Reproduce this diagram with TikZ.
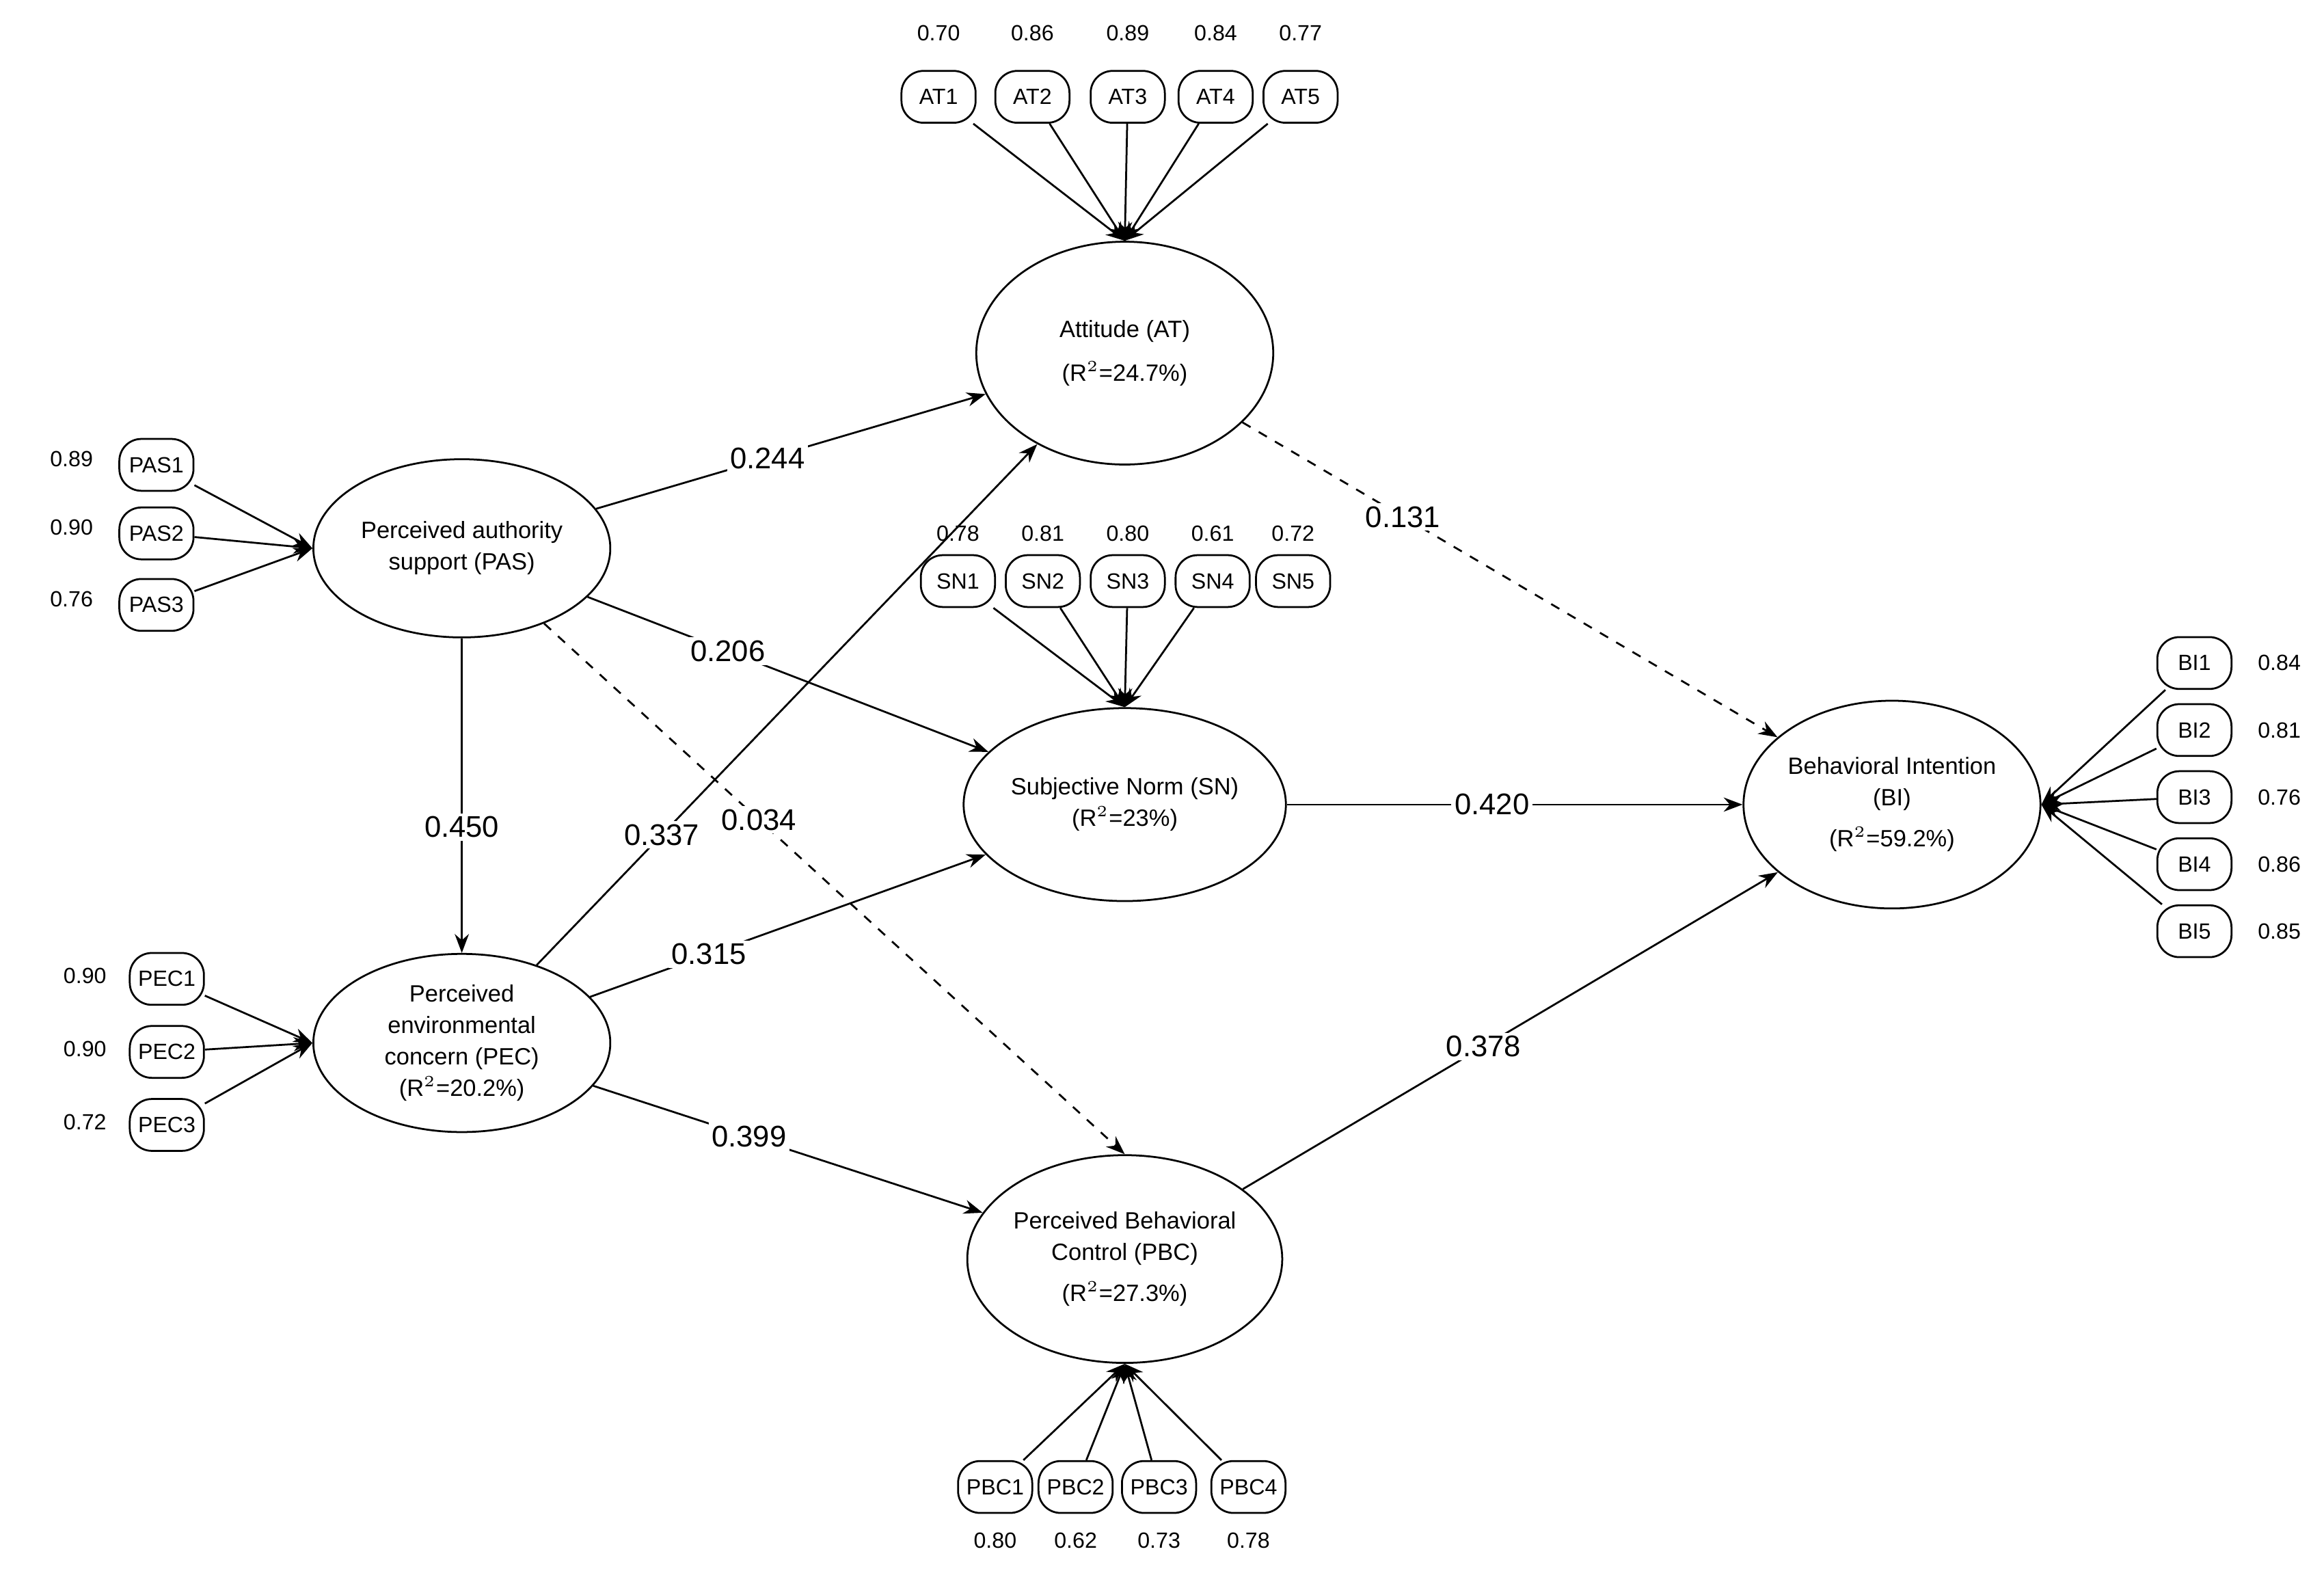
\documentclass[tikz,border=0pt]{standalone}
\usepackage{fontspec}
\setmainfont{Liberation Sans}
\usetikzlibrary{shapes.geometric,arrows.meta}
\begin{document}
\begin{tikzpicture}[x=0.016667cm,y=-0.016667cm,
  lv/.style={ellipse,draw,line width=0.6pt,minimum width=94.5pt,minimum height=#1,align=center,font=\fontsize{7.5}{10}\selectfont,inner sep=0pt},
  ind/.style={rectangle,rounded corners=7pt,draw,line width=0.6pt,minimum width=23.6pt,minimum height=16.5pt,inner sep=0pt,font=\fontsize{7}{8}\selectfont},
  ld/.style={font=\fontsize{7}{8}\selectfont},
  co/.style={font=\fontsize{9.5}{11}\selectfont,fill=white,inner sep=1pt},
  ar/.style={-{Stealth[length=6pt,width=4.5pt]},line width=0.6pt},
  da/.style={ar,dashed}]
\useasboundingbox (0,0) rectangle (1560,1054);
\node[lv=70.9pt] (AT) at (755,237) {Attitude (AT)\\[4pt](R$^{2}$=24.7\%)};
\node[lv=56.7pt] (PAS) at (310,368) {Perceived authority\\support (PAS)};
\node[lv=61.4pt] (SN) at (755,540) {Subjective Norm (SN)\\(R$^{2}$=23\%)};
\node[lv=56.7pt] (PEC) at (310,700) {Perceived\\environmental\\concern (PEC)\\(R$^{2}$=20.2\%)};
\node[lv=66.1pt] (PBC) at (755,845) {Perceived Behavioral\\Control (PBC)\\[3pt](R$^{2}$=27.3\%)};
\node[lv=66.1pt] (BI) at (1270,540) {Behavioral Intention\\(BI)\\[3pt](R$^{2}$=59.2\%)};
% AT indicators
\foreach \n/\x/\l in {1/630/0.70,2/693/0.86,3/757/0.89,4/816/0.84,5/873/0.77}{
  \node[ind] (AT\n) at (\x,65) {AT\n};
  \node[ld] (ATl\n) at (\x,22) {\l};
  \draw[ar] (AT\n) -- (AT.north);}
% SN indicators
\foreach \n/\x/\l in {1/643/0.78,2/700/0.81,3/757/0.80,4/814/0.61,5/868/0.72}{
  \node[ind] (SN\n) at (\x,390) {SN\n};
  \node[ld] (SNl\n) at (\x,358) {\l};}
\foreach \n in {1,2,3,4}{\draw[ar] (SN\n) -- (SN.north);}
% PAS
\foreach \n/\y/\l in {1/312/0.89,2/358/0.90,3/406/0.76}{
  \node[ind] (PAS\n) at (105,\y) {PAS\n};
  \node[ld] (PASl\n) at (48,\y-4) {\l};
  \draw[ar] (PAS\n) -- (PAS.west);}
% PEC
\foreach \n/\y/\l in {1/657/0.90,2/706/0.90,3/755/0.72}{
  \node[ind] (PEC\n) at (112,\y) {PEC\n};
  \node[ld] (PECl\n) at (57,\y-2) {\l};
  \draw[ar] (PEC\n) -- (PEC.west);}
% PBC
\foreach \n/\x/\l in {1/668/0.80,2/722/0.62,3/778/0.73,4/838/0.78}{
  \node[ind] (PBC\n) at (\x,998) {PBC\n};
  \node[ld] (PBCl\n) at (\x,1034) {\l};
  \draw[ar] (PBC\n) -- (PBC.south);}
% BI
\foreach \n/\y/\l in {1/445/0.84,2/490/0.81,3/535/0.76,4/580/0.86,5/625/0.85}{
  \node[ind] (BI\n) at (1473,\y) {BI\n};
  \node[ld] (BIl\n) at (1530,\y) {\l};
  \draw[ar] (BI\n) -- (BI.east);}
% structural paths
\draw[ar] (PAS) -- node[co,pos=0.44] {0.244} (AT);
\draw[ar] (PAS) -- node[co,pos=0.35] {0.206} (SN);
\draw[da] (PAS) -- node[co,pos=0.37] {0.034} (PBC.north);
\draw[ar] (PAS) -- node[co,pos=0.6] {0.450} (PEC);
\draw[ar] (PEC) -- node[co,pos=0.25] {0.337} (AT);
\draw[ar] (PEC) -- node[co,pos=0.3] {0.315} (SN);
\draw[ar] (PEC) -- node[co,pos=0.4] {0.399} (PBC);
\draw[da] (AT) -- node[co,pos=0.3] {0.131} (BI);
\draw[ar] (SN) -- node[co,pos=0.45] {0.420} (BI);
\draw[ar] (PBC) -- node[co,pos=0.45] {0.378} (BI);
\end{tikzpicture}
\end{document}
